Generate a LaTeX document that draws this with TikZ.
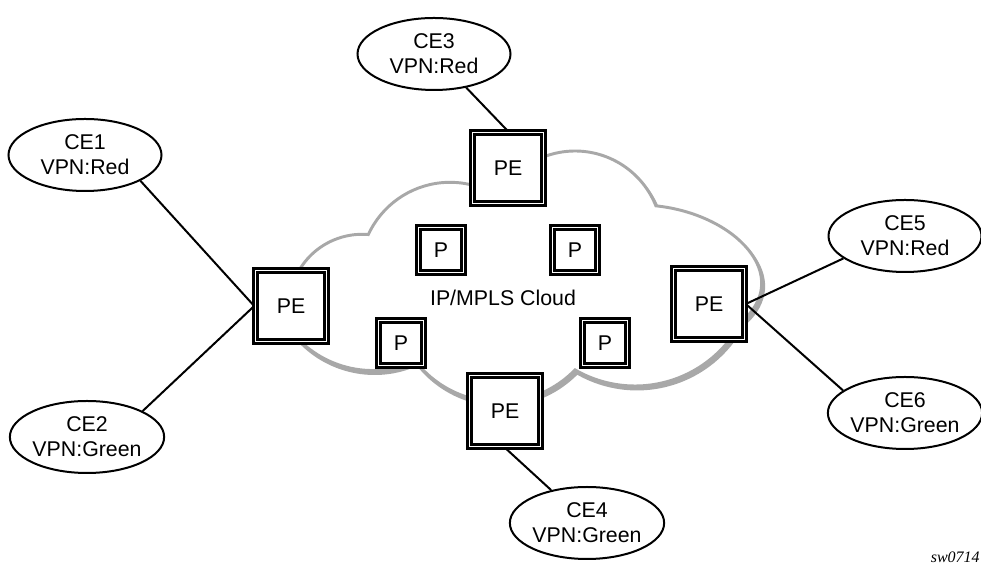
\documentclass[tikz,border=0pt]{standalone}
\usepackage{fontspec}
\setmainfont{Liberation Sans}
\newfontfamily\figfont{Liberation Serif}
\usetikzlibrary{shapes.geometric}
\definecolor{cloudgray}{HTML}{A8A8A8}
\newcommand\cloudshape{(498.7,369.7) arc[start angle=151.35, end angle=21.7, radius=65.25pt]
  .. controls (735,352) and (795,290) .. (741,243.7)
  arc[start angle=-27.98, end angle=-120, radius=90pt]
  arc[start angle=-44.2, end angle=-142, radius=79.5pt]
  arc[start angle=-65.65, end angle=-138.5, radius=78pt]
  arc[start angle=202.7, end angle=85.1, radius=54.75pt]
  arc[start angle=155.2, end angle=57.25, radius=67.5pt] -- cycle}

\begin{document}
\begin{tikzpicture}[x=0.75pt, y=0.75pt,
    cenode/.style={ellipse, draw, line width=1.5pt, fill=white,
      minimum width=114.75pt, minimum height=54pt, inner sep=0pt,
      align=center, font=\fontsize{16}{18.75}\selectfont},
    penode/.style={rectangle, draw, line width=2.1pt, double=white,
      double distance=1.2pt, fill=white, minimum size=53.1pt,
      inner sep=0pt, font=\fontsize{16}{18.75}\selectfont},
    pnode/.style={penode, minimum size=33.6pt},
    link/.style={line width=1.5pt}]
  \useasboundingbox (0,0) rectangle (981,566);

  \draw[cloudgray, line width=2.2pt, fill=cloudgray, xshift=1.5pt, yshift=-2.25pt] \cloudshape;
  \draw[cloudgray, line width=2.2pt, fill=white] \cloudshape;

  \node[cenode] (ce3) at (434,512) {CE3\\VPN:Red};
  \node[cenode] (ce1) at (85,411) {CE1\\VPN:Red};
  \node[cenode] (ce2) at (87,129) {CE2\\VPN:Green};
  \node[cenode] (ce4) at (587,43) {CE4\\VPN:Green};
  \node[cenode] (ce5) at (905,330) {CE5\\VPN:Red};
  \node[cenode] (ce6) at (905,153) {CE6\\VPN:Green};

  \node[penode] (penorth) at (508,398) {PE};
  \node[penode] (pewest) at (291,260) {PE};
  \node[penode] (peeast) at (709,262) {PE};
  \node[penode] (pesouth) at (505,155) {PE};

  \node[pnode] (p1) at (441,316) {P};
  \node[pnode] (p2) at (575,316) {P};
  \node[pnode] (p3) at (401,223) {P};
  \node[pnode] (p4) at (605,223) {P};

  \node[font=\fontsize{16}{18.75}\selectfont] (cloudlabel) at (503,268) {IP/MPLS Cloud};

  \draw[link] (ce3) -- (penorth.north);
  \draw[link] (ce1.-25) -- (pewest.west);
  \draw[link] (ce2.25) -- (pewest.west);
  \draw[link] (ce5.200) -- (peeast.east);
  \draw[link] (ce6.160) -- (peeast.east);
  \draw[link] (ce4) -- (pesouth.south);

  \node[font=\figfont\itshape\fontsize{12}{14}\selectfont, anchor=base east,
    inner sep=0pt] (tag) at (980,3) {sw0714};
\end{tikzpicture}
\end{document}
